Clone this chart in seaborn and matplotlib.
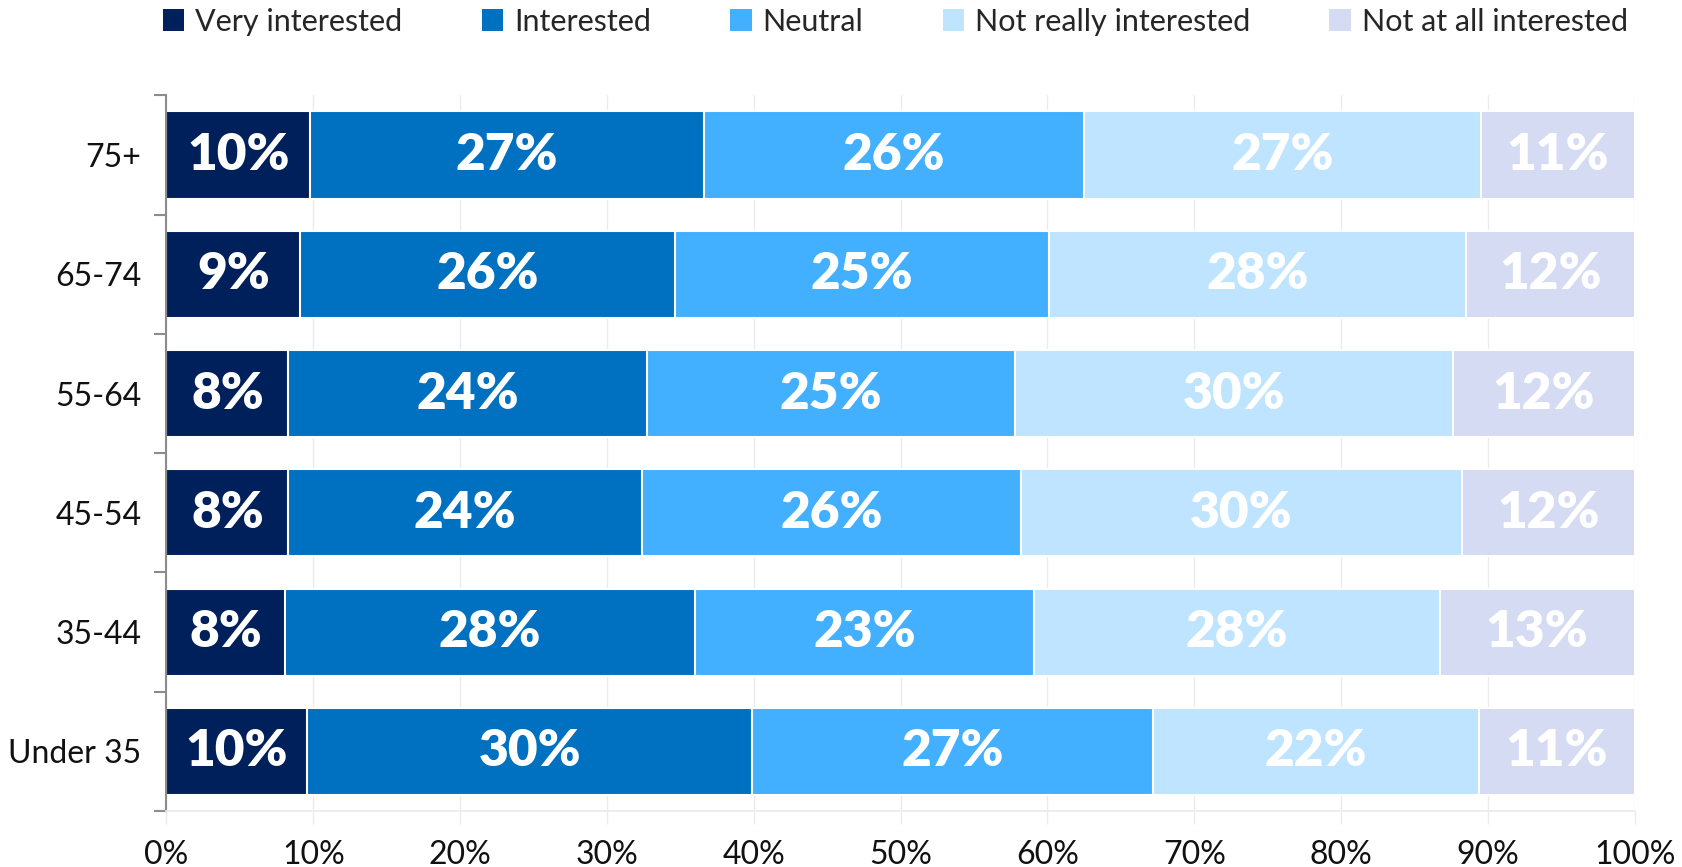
import matplotlib
matplotlib.use("Agg")
import matplotlib.pyplot as plt
import seaborn as sns
import numpy as np
import pandas as pd
from matplotlib.patches import Patch

# ---- data ----
categories = ["75+", "65-74", "55-64", "45-54", "35-44", "Under 35"]
series = ["Very interested", "Interested", "Neutral", "Not really interested", "Not at all interested"]
very_interested = [9.8, 9.1, 8.3, 8.3, 8.1, 9.6]
interested = [26.8, 25.5, 24.4, 24.1, 27.9, 30.3]
neutral = [25.9, 25.5, 25.1, 25.8, 23.1, 27.3]
not_really = [27.0, 28.4, 29.8, 30.0, 27.6, 22.2]
not_at_all = [10.5, 11.5, 12.4, 11.8, 13.3, 10.6]
labels_very = [10, 9, 8, 8, 8, 10]
labels_int = [27, 26, 24, 24, 28, 30]
labels_neu = [26, 25, 25, 26, 23, 27]
labels_nr = [27, 28, 30, 30, 28, 22]
labels_na = [11, 12, 12, 12, 13, 11]
xticks = [0, 10, 20, 30, 40, 50, 60, 70, 80, 90, 100]

colors = ["#00205B", "#0070C0", "#43AFFF", "#BFE4FF", "#D4DBF2"]

values = [very_interested, interested, neutral, not_really, not_at_all]
labels = [labels_very, labels_int, labels_neu, labels_nr, labels_na]

sns.set_theme(style="white")
plt.rcParams["font.family"] = ["Lato", "DejaVu Sans"]

fig = plt.figure(figsize=(16.83, 8.67), dpi=100)
ax = fig.add_axes([0.0989, 0.0646, 0.8725, 0.8254])

arr = np.array(values)
cum = np.cumsum(arr, axis=0)
starts = cum - arr

# draw cumulative layers from largest to smallest
for k in range(len(series) - 1, -1, -1):
    df = pd.DataFrame({"cat": categories, "val": cum[k]})
    sns.barplot(data=df, x="val", y="cat", order=categories, color=colors[k],
                saturation=1, width=0.73, edgecolor="white", linewidth=1.5,
                ax=ax, orient="h")

# labels
for k in range(len(series)):
    for i in range(len(categories)):
        xc = starts[k][i] + arr[k][i] / 2
        ax.text(xc, i, f"{labels[k][i]}%", ha="center", va="center",
                color="white", fontsize=37, fontweight="heavy",
                family=["Lato", "DejaVu Sans"])

ax.set_xlim(0, 100)
ax.set_ylim(len(categories) - 0.5, -0.5)
ax.set_xticks(xticks)
ax.set_xticklabels([f"{t}%" for t in xticks])
ax.set_xlabel("")
ax.set_ylabel("")
ax.grid(axis="x", color="#EBEBEB", linewidth=1)
ax.set_axisbelow(True)

for s in ["top", "right"]:
    ax.spines[s].set_visible(False)
ax.spines["left"].set_color("#8C8C8C")
ax.spines["left"].set_linewidth(1.5)
ax.spines["bottom"].set_color("#EBEBEB")

ax.set_yticks(np.arange(-0.5, len(categories), 1.0), minor=True)
ax.tick_params(axis="y", which="minor", left=True, length=9, width=1.5, color="#8C8C8C")
ax.tick_params(axis="y", which="major", length=0, pad=18, labelsize=23, labelcolor="#111111")
ax.tick_params(axis="x", which="major", bottom=True, length=9, width=1, color="#EBEBEB",
               pad=12, labelsize=23, labelcolor="#111111")

handles = [Patch(facecolor=c, edgecolor="none") for c in colors]
leg = fig.legend(handles, series, loc="center", bbox_to_anchor=(0.532, 0.975), ncol=5,
                 frameon=False, handlelength=0.7, handleheight=0.7, handletextpad=0.35,
                 columnspacing=2.6,
                 prop={"family": ["Lato"], "size": 22})

fig.savefig("out.png", dpi=100)
